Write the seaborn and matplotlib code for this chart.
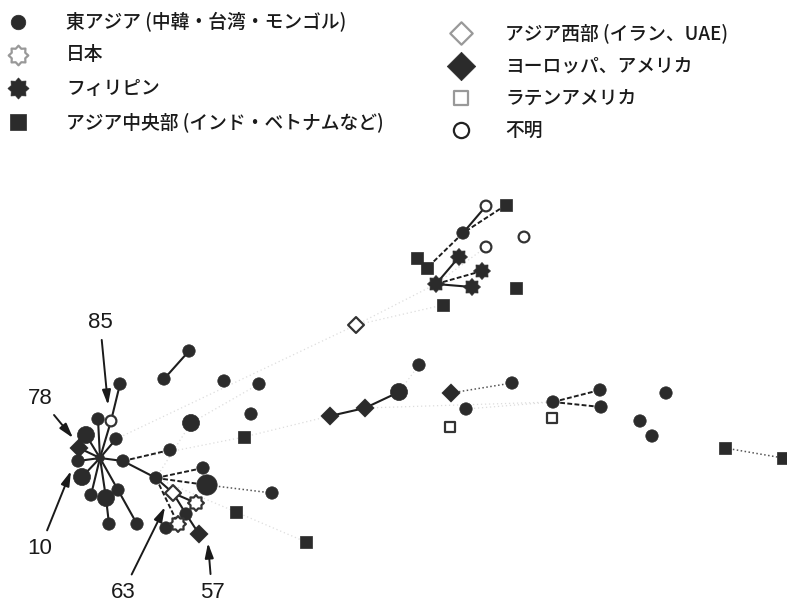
import matplotlib
matplotlib.use("Agg")
import matplotlib.pyplot as plt
from matplotlib.path import Path
import numpy as np
import seaborn as sns
import pandas as pd

sns.set_theme(style="white")
plt.rcParams["font.family"] = ["Noto Sans CJK JP", "DejaVu Sans"]

# ---- haplotype network: node layout (x, y in layout units), region group and size class
node_x = [100, 120, 111, 98, 86, 116, 79, 78, 123, 170, 156, 82, 91, 106, 109, 118, 137,
          203, 207, 272, 173, 196, 186, 178, 166, 199, 236, 306,
          189, 164, 224, 259, 251, 191, 244,
          330, 365, 399, 419, 451, 512, 466, 450, 553, 600, 601, 552, 666, 640, 652, 725, 783,
          486, 506, 463, 524, 486, 459, 417, 427, 482, 436, 472, 516, 443, 356]
node_y = [458, 384, 421, 419, 435, 439, 448, 461, 461, 450, 478, 477, 495, 498, 524, 490, 524,
          468, 485, 493, 493, 503, 514, 524, 528, 534, 512, 542,
          351, 379, 381, 384, 414, 423, 437,
          416, 408, 392, 365, 393, 383, 409, 427, 402, 390, 407, 418, 393, 421, 436, 448, 458,
          206, 205, 233, 237, 247, 257, 258, 268, 271, 284, 287, 288, 305, 325]
node_group = ["east", "east", "unknown", "east", "east", "east", "euro", "east", "east", "east",
              "east", "east", "east", "east", "east", "east", "east",
              "east", "east", "east", "west", "japan", "east", "japan", "east", "euro",
              "central", "central",
              "east", "east", "east", "east", "east", "east", "central",
              "euro", "euro", "east", "east", "euro", "east", "east", "latin", "east", "east",
              "east", "latin", "east", "east", "east", "central", "central",
              "unknown", "central", "east", "unknown", "unknown", "phil", "central", "central",
              "phil", "phil", "phil", "central", "central", "west"]
node_size = ["s", "n", "n", "n", "L", "n", "n", "n", "n", "n", "n", "L", "n", "L", "n", "n", "n",
             "n", "XL", "n", "n", "n", "n", "n", "n", "n", "n", "n",
             "n", "n", "n", "n", "n", "L", "n",
             "n", "n", "L", "n", "n", "n", "n", "n", "n", "n", "n", "n", "n", "n", "n", "n", "n",
             "n", "n", "n", "n", "n", "n", "n", "n", "n", "n", "n", "n", "n", "n"]

# ---- links between haplotypes
solid_edges = [(0, 2), (2, 1), (0, 3), (0, 4), (0, 5), (0, 6), (0, 7), (0, 8), (0, 11), (0, 12),
               (0, 13), (0, 15), (13, 14), (15, 16), (8, 10), (10, 20), (20, 22), (22, 25),
               (20, 21), (23, 24), (28, 29), (35, 36), (36, 37), (52, 54), (61, 57), (61, 62)]
dashed_edges = [(8, 9), (10, 17), (10, 18), (10, 23), (43, 44), (43, 45), (53, 54), (54, 59),
                (61, 60)]
dotted_edges = [(18, 19), (39, 40), (50, 51)]
faint_edges = [(5, 65), (65, 61), (8, 34), (34, 35), (36, 43), (26, 27), (37, 38), (61, 56),
               (10, 33), (33, 31), (65, 64), (41, 43), (10, 26)]

# ---- callouts
callout_text = ["85", "78", "10", "63", "57"]
callout_text_xy = [(100, 322), (40, 398), (40, 548), (123, 592), (212, 592)]
callout_tip_xy = [(108, 405), (73, 438), (71, 471), (165, 507), (208, 543)]

# ---- legend entries
legend_groups = ["east", "japan", "phil", "central", "west", "euro", "latin", "unknown"]
legend_labels = ["東アジア (中韓・台湾・モンゴル)", "日本", "フィリピン",
                 "アジア中央部 (インド・ベトナムなど)",
                 "アジア西部 (イラン、UAE)", "ヨーロッパ、アメリカ", "ラテンアメリカ", "不明"]

# eight-point badge star used for the Japan / Philippines haplotypes
_ang = np.linspace(0, 2 * np.pi, 17)[:-1] + np.pi / 2
_rad = np.where(np.arange(16) % 2 == 0, 1.0, 0.74)
_verts = np.column_stack([_rad * np.cos(_ang), _rad * np.sin(_ang)])
BADGE = Path(np.vstack([_verts, _verts[:1]]), closed=True)

DARK = "#2b2b2b"
style = {
    "east":    dict(marker="o", filled=True),
    "japan":   dict(marker=BADGE, filled=False),
    "phil":    dict(marker=BADGE, filled=True),
    "central": dict(marker="s", filled=True),
    "west":    dict(marker="D", filled=False),
    "euro":    dict(marker="D", filled=True),
    "latin":   dict(marker="s", filled=False),
    "unknown": dict(marker="o", filled=False),
}
size_scale = {"east": {"s": 40, "n": 80, "L": 150, "XL": 215},
              "japan": {"n": 130}, "phil": {"n": 150}, "central": {"n": 70},
              "west": {"n": 65}, "euro": {"n": 85}, "latin": {"n": 55}, "unknown": {"n": 60}}

nodes = pd.DataFrame({"x": node_x, "y": node_y, "group": node_group, "size": node_size})

fig = plt.figure(figsize=(7.87, 6.06), dpi=100)
ax = fig.add_axes([0, 0, 1, 1])
ax.set_xlim(0, 787)
ax.set_ylim(606, 0)
ax.set_axis_off()


def link(edges, **kw):
    for a, b in edges:
        ax.plot([node_x[a], node_x[b]], [node_y[a], node_y[b]], **kw)


link(faint_edges, color="#dddddd", lw=0.9, ls=(0, (1, 2.2)), zorder=1)
link(solid_edges, color="#1e1e1e", lw=1.5, zorder=2)
link(dashed_edges, color="#1e1e1e", lw=1.4, ls=(0, (2.5, 1.2)), zorder=2)
link(dotted_edges, color="#555555", lw=1.1, ls=(0, (1, 1.6)), zorder=2)

for g, st in style.items():
    sub = nodes[nodes["group"] == g]
    if sub.empty:
        continue
    face = DARK if st["filled"] else "white"
    edge = DARK if st["filled"] else "#333333"
    lw = 0.5 if st["filled"] else 1.6
    sns.scatterplot(data=sub, x="x", y="y", size="size", sizes=size_scale[g],
                    marker=st["marker"], color=face, edgecolor=edge, linewidth=lw,
                    legend=False, ax=ax, zorder=3)

for txt, (tx, ty), (px, py) in zip(callout_text, callout_text_xy, callout_tip_xy):
    ax.annotate(txt, xy=(px, py), xytext=(tx, ty), ha="center", va="center",
                fontsize=16, family=["Liberation Sans", "DejaVu Sans"], color="#1a1a1a",
                arrowprops=dict(arrowstyle="-|>,head_length=0.55,head_width=0.16",
                                color="#1a1a1a", lw=1.4, shrinkA=3, shrinkB=0))

# legend block drawn in two columns
leg_marker_x = [18, 18, 18, 18, 461, 461, 461, 461]
leg_text_x = [66, 66, 66, 66, 505, 505, 505, 505]
leg_y = [22, 55, 88, 122, 33, 66, 98, 130]
leg_sizes = {"east": 110, "japan": 200, "phil": 230, "central": 120, "west": 130,
             "euro": 210, "latin": 110, "unknown": 120}
for g, lab, mx, tx, yy in zip(legend_groups, legend_labels, leg_marker_x, leg_text_x, leg_y):
    st = style[g]
    face = DARK if st["filled"] else "white"
    edge = DARK if st["filled"] else ("#999999" if g in ("japan", "west", "latin") else "#222222")
    ax.scatter([mx], [yy], s=leg_sizes[g], marker=st["marker"], c=face, edgecolors=edge,
               linewidths=0.5 if st["filled"] else 1.6, zorder=3)
    ax.text(tx, yy, lab, fontsize=13.5, va="center", ha="left", color="#1a1a1a",
            fontweight="medium")

fig.savefig("out.png", dpi=100, facecolor="white")
